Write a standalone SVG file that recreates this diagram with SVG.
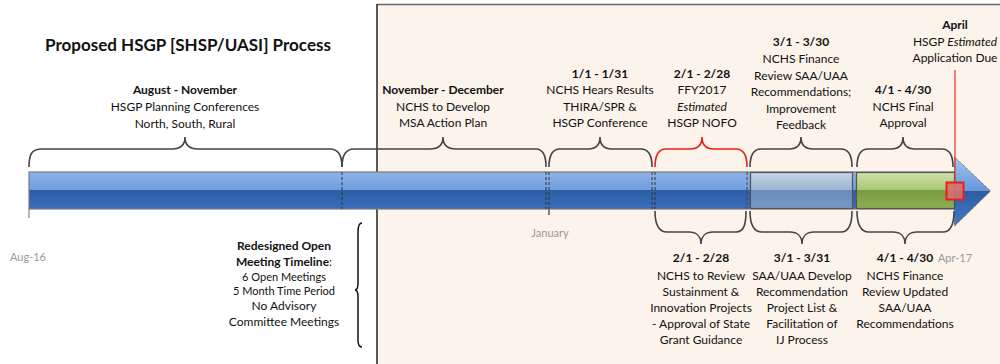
<svg xmlns="http://www.w3.org/2000/svg" width="1000" height="364" viewBox="0 0 1000 364">
<defs>
<linearGradient id="gBlue" x1="0" y1="0" x2="0" y2="1">
<stop offset="0" stop-color="#8DB3E8"/><stop offset="0.5" stop-color="#6F9EDD"/><stop offset="0.5" stop-color="#2C5EA6"/><stop offset="1" stop-color="#386EBC"/>
</linearGradient>
<linearGradient id="gLight" x1="0" y1="0" x2="0" y2="1">
<stop offset="0" stop-color="#C6D4E7"/><stop offset="0.5" stop-color="#9AB2D2"/><stop offset="0.5" stop-color="#6A8DBB"/><stop offset="1" stop-color="#7898C3"/>
</linearGradient>
<linearGradient id="gGreen" x1="0" y1="0" x2="0" y2="1">
<stop offset="0" stop-color="#CFE0A9"/><stop offset="0.5" stop-color="#A8C66E"/><stop offset="0.5" stop-color="#7A9A3E"/><stop offset="1" stop-color="#8EAF54"/>
</linearGradient>
<linearGradient id="gArrow" x1="0" y1="0" x2="0" y2="1">
<stop offset="0" stop-color="#A3C5F0"/><stop offset="0.5" stop-color="#6796DA"/><stop offset="0.5" stop-color="#2C5EA6"/><stop offset="1" stop-color="#4479C8"/>
</linearGradient>
</defs>
<style>
text{font-family:Lato,"Liberation Sans",sans-serif;fill:#111;text-anchor:middle}
.t{font-size:12px}
.b{font-weight:bold}
.i{font-style:italic}
.g{fill:#999;font-size:11px}
.br{fill:none;stroke:#444;stroke-width:1.6}
.red{stroke:#E8201A}
.dash{stroke:#333;stroke-width:1;stroke-dasharray:3,2}
</style>
<rect width="1000" height="364" fill="#fff"/>
<g id="panel">
<rect x="377" y="4.5" width="624" height="361" fill="#FCF3EA"/>
<line x1="377" y1="4.5" x2="1000" y2="4.5" stroke="#666" stroke-width="1.5"/>
<line x1="377" y1="4" x2="377" y2="364" stroke="#222" stroke-width="1.5"/>
</g>
<g id="title"><text x="188" y="51" class="b" style="font-size:17px">Proposed HSGP [SHSP/UASI] Process</text></g>
<g id="timeline">
<line x1="29" y1="209" x2="29" y2="218" stroke="#888" stroke-width="1.2"/>
<line x1="549" y1="209" x2="549" y2="215" stroke="#333" stroke-width="1.2"/>
<rect x="29" y="172" width="926" height="37" fill="url(#gBlue)" stroke="#7A7A7A" stroke-width="1.2"/>
<line x1="342" y1="172" x2="342" y2="209" class="dash"/>
<line x1="546" y1="172" x2="546" y2="209" class="dash"/>
<line x1="549" y1="172" x2="549" y2="209" class="dash"/>
<line x1="652" y1="172" x2="652" y2="209" class="dash"/>
<line x1="655" y1="172" x2="655" y2="209" class="dash"/>
<line x1="747" y1="172" x2="747" y2="209" class="dash" style="stroke:#7A2A3A"/>
</g>
<g id="seg-review"><rect x="750.5" y="172.5" width="102" height="36" fill="url(#gLight)" stroke="#555" stroke-width="1.2"/></g>
<g id="seg-approval"><rect x="856.5" y="172.5" width="98" height="36" fill="url(#gGreen)" stroke="#555" stroke-width="1.2"/></g>
<g id="arrowhead"><polygon points="954.5,157 990.5,191 954.5,226" fill="url(#gArrow)" stroke="#333" stroke-width="0.8" stroke-dasharray="1,1"/></g>
<g id="deadline">
<line x1="955" y1="70" x2="955" y2="182" stroke="#E8302A" stroke-width="1.2"/>
<rect x="946.5" y="182.5" width="17" height="17" fill="#D8706A" fill-opacity="0.9" stroke="#E8201A" stroke-width="2"/>
</g>
<g id="connectors">
<path class="br" d="M29 167 C29 155 31 149 42 149 L172 149 C180 149 185 146 185 137 C185 146 190 149 198 149 L330 149 C338 149 342 155 342 167"/>
<path class="br" d="M342 167 C342 155 346 149 354 149 L430 149 C438 149 443 146 443 137 C443 146 448 149 456 149 L536 149 C543 149 546 155 546 167"/>
<path class="br" d="M549 167 C549 155 552 149 560 149 L588 149 C595 149 600 146 600 137 C600 146 605 149 612 149 L641 149 C649 149 652 155 652 167"/>
<path class="br red" d="M655 167 C655 155 658 149 666 149 L690 149 C697 149 702 146 702 137 C702 146 707 149 714 149 L736 149 C744 149 747 155 747 167"/>
<path class="br" d="M750 167 C750 155 753 149 761 149 L789 149 C796 149 801 146 801 137 C801 146 806 149 813 149 L841 149 C849 149 852 155 852 167"/>
<path class="br" d="M857 167 C857 155 860 149 868 149 L891 149 C898 149 903 146 903 137 C903 146 908 149 915 149 L942 149 C950 149 953 155 953 167"/>
<path class="br" d="M655 211 C655 224 658 232 667 232 L689 232 C696 232 701 236 701 244 C701 236 706 232 713 232 L736 232 C744 232 746 224 746 211"/>
<path class="br" d="M750 211 C750 224 753 232 762 232 L790 232 C797 232 802 236 802 244 C802 236 807 232 814 232 L841 232 C849 232 852 224 852 211"/>
<path class="br" d="M857 211 C857 224 860 232 869 232 L893 232 C900 232 905 236 905 244 C905 236 910 232 917 232 L943 232 C951 232 954 224 954 211"/>
<path fill="none" stroke="#111" stroke-width="1.5" d="M362 223 C359 223 358 226 358 232 L358 283 C358 288 357 290 355 290 C357 290 358 292 358 297 L358 340 C358 345 359 347 362 347"/>
</g>
<g id="n-aug">
<text x="185" y="94" class="t b">August - November</text>
<text x="185" y="111" class="t">HSGP Planning Conferences</text>
<text x="185" y="128" class="t">North, South, Rural</text>
</g>
<g id="n-nov">
<text x="443" y="94" class="t b">November - December</text>
<text x="443" y="111" class="t">NCHS to Develop</text>
<text x="443" y="127" class="t">MSA Action Plan</text>
</g>
<g id="n-jan">
<text x="600" y="78" class="t b">1/1 - 1/31</text>
<text x="600" y="94" class="t">NCHS Hears Results</text>
<text x="600" y="111" class="t">THIRA/SPR &amp;</text>
<text x="600" y="127" class="t">HSGP Conference</text>
</g>
<g id="n-feb">
<text x="702" y="78" class="t b">2/1 - 2/28</text>
<text x="702" y="94" class="t">FFY2017</text>
<text x="702" y="111" class="t i">Estimated</text>
<text x="702" y="127" class="t">HSGP NOFO</text>
</g>
<g id="n-mar">
<text x="801" y="46" class="t b">3/1 - 3/30</text>
<text x="801" y="63" class="t">NCHS Finance</text>
<text x="801" y="80" class="t">Review SAA/UAA</text>
<text x="801" y="96" class="t">Recommendations;</text>
<text x="801" y="113" class="t">Improvement</text>
<text x="801" y="129" class="t">Feedback</text>
</g>
<g id="n-apr">
<text x="903" y="94" class="t b">4/1 - 4/30</text>
<text x="903" y="111" class="t">NCHS Final</text>
<text x="903" y="127" class="t">Approval</text>
</g>
<g id="n-due">
<text x="955" y="29" class="t b">April</text>
<text x="955" y="46" class="t">HSGP <tspan class="i">Estimated</tspan></text>
<text x="955" y="62" class="t">Application Due</text>
</g>
<g id="n-feb-b">
<text x="701" y="262" class="t b">2/1 - 2/28</text>
<text x="701" y="280" class="t">NCHS to Review</text>
<text x="701" y="296" class="t">Sustainment &amp;</text>
<text x="701" y="312" class="t">Innovation Projects</text>
<text x="701" y="328" class="t">- Approval of State</text>
<text x="701" y="344" class="t">Grant Guidance</text>
</g>
<g id="n-mar-b">
<text x="802" y="262" class="t b">3/1 - 3/31</text>
<text x="802" y="280" class="t">SAA/UAA Develop</text>
<text x="802" y="296" class="t">Recommendation</text>
<text x="802" y="312" class="t">Project List &amp;</text>
<text x="802" y="328" class="t">Facilitation of</text>
<text x="802" y="344" class="t">IJ Process</text>
</g>
<g id="n-apr-b">
<text x="905" y="262" class="t b">4/1 - 4/30</text>
<text x="905" y="280" class="t">NCHS Finance</text>
<text x="905" y="296" class="t">Review Updated</text>
<text x="905" y="312" class="t">SAA/UAA</text>
<text x="905" y="328" class="t">Recommendations</text>
</g>
<g id="axis-labels">
<text x="28" y="261" class="g">Aug-16</text>
<text x="550" y="237" class="g">January</text>
<text x="955" y="262" class="g">Apr-17</text>
</g>
<g id="n-open">
<text x="284" y="250" class="t b">Redesigned Open</text>
<text x="284" y="266" class="t"><tspan class="b">Meeting Timeline</tspan>:</text>
<text x="284" y="281" style="font-size:11px">6 Open Meetings</text>
<text x="284" y="295" style="font-size:11px">5 Month Time Period</text>
<text x="284" y="310" class="t">No Advisory</text>
<text x="284" y="326" class="t">Committee Meetings</text>
</g>
</svg>
